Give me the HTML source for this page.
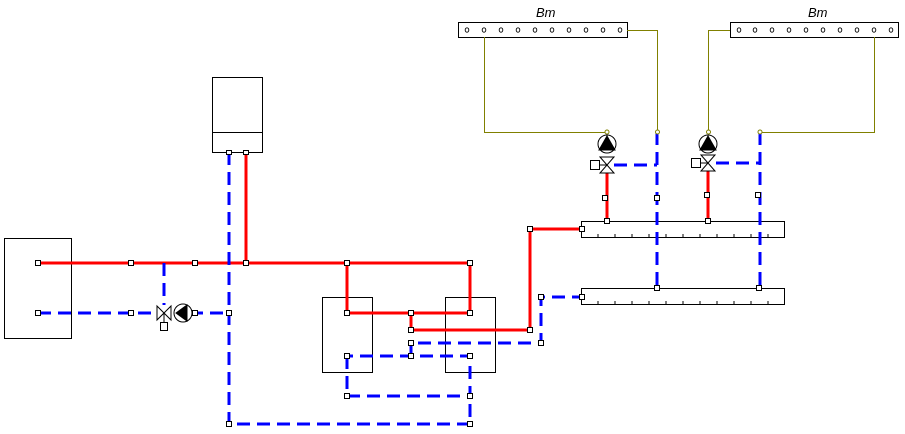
<!DOCTYPE html>
<html><head><meta charset="utf-8"><style>
html,body{margin:0;padding:0;background:#fff;width:905px;height:434px;overflow:hidden}
svg{display:block}
text{font-family:"Liberation Sans",sans-serif;font-style:italic;font-size:13px}
</style></head><body>
<svg width="905" height="434" viewBox="0 0 905 434" xmlns="http://www.w3.org/2000/svg">
<g fill="none" stroke="#000" stroke-width="1">
<rect x="4.5" y="238.5" width="67" height="100"/>
<rect x="212.5" y="77.5" width="50" height="75"/>
<line x1="212" y1="132.5" x2="262" y2="132.5"/>
<rect x="322.5" y="297.5" width="50" height="75"/>
<rect x="445.5" y="297.5" width="50" height="75"/>
<rect x="581.5" y="221.5" width="203" height="16"/>
<rect x="581.5" y="288.5" width="203" height="16"/>
<rect x="458.5" y="22.5" width="169" height="15"/>
<rect x="730.5" y="22.5" width="168" height="15"/>
</g>
<g stroke="#000" stroke-width="1" id="ticks">
<path d="M598 237v-3M615 237v-3M632 237v-3M649 237v-3M666 237v-3M683 237v-3M700 237v-3M717 237v-3M734 237v-3M751 237v-3M768 237v-3M598 304v-3M615 304v-3M632 304v-3M649 304v-3M666 304v-3M683 304v-3M700 304v-3M717 304v-3M734 304v-3M751 304v-3M768 304v-3"/>
</g>
<g fill="none" stroke="#000" stroke-width="1">
<g id="dots1"></g>
</g>
<g fill="none" stroke="#000" stroke-width="0.9">
<ellipse cx="467" cy="30" rx="1.8" ry="2.2"/><ellipse cx="484" cy="30" rx="1.8" ry="2.2"/><ellipse cx="501" cy="30" rx="1.8" ry="2.2"/><ellipse cx="518" cy="30" rx="1.8" ry="2.2"/><ellipse cx="535" cy="30" rx="1.8" ry="2.2"/><ellipse cx="552" cy="30" rx="1.8" ry="2.2"/><ellipse cx="569" cy="30" rx="1.8" ry="2.2"/><ellipse cx="586" cy="30" rx="1.8" ry="2.2"/><ellipse cx="603" cy="30" rx="1.8" ry="2.2"/><ellipse cx="620" cy="30" rx="1.8" ry="2.2"/>
<ellipse cx="739" cy="30" rx="1.8" ry="2.2"/><ellipse cx="755" cy="30" rx="1.8" ry="2.2"/><ellipse cx="772" cy="30" rx="1.8" ry="2.2"/><ellipse cx="789" cy="30" rx="1.8" ry="2.2"/><ellipse cx="806" cy="30" rx="1.8" ry="2.2"/><ellipse cx="823" cy="30" rx="1.8" ry="2.2"/><ellipse cx="840" cy="30" rx="1.8" ry="2.2"/><ellipse cx="857" cy="30" rx="1.8" ry="2.2"/><ellipse cx="874" cy="30" rx="1.8" ry="2.2"/><ellipse cx="891" cy="30" rx="1.8" ry="2.2"/>
</g>
<text x="536" y="17">Bm</text>
<text x="808" y="17">Bm</text>
<!-- olive wires -->
<g fill="none" stroke="#808000" stroke-width="1">
<path d="M484.5 37V132.5H607"/>
<path d="M627 30.5H657.5V132"/>
<path d="M730 30.5H708.5V132"/>
<path d="M874.5 37V132.5H760"/>
</g>
<!-- red lines -->
<g fill="none" stroke="#f00" stroke-width="3">
<path d="M38 263H470"/>
<path d="M246 152V263"/>
<path d="M347 263V313H470V263"/>
<path d="M411 313V330H530V229H582"/>
<path d="M607 172V221"/>
<path d="M708 170V221"/>
</g>
<!-- blue dashed -->
<g fill="none" stroke="#00f" stroke-width="3" stroke-dasharray="13,7">
<path d="M38 313H157"/>
<path d="M190 313H229"/>
<path d="M164 263V305"/>
<path d="M229 152V424H470V396"/>
<path d="M347 356V396H470V356H347"/>
<path d="M411 356V343H541V297H582"/>
<path d="M614 165H657"/>
<path d="M716 163H760"/>
<path d="M657 132V288"/>
<path d="M760 132V288"/>
</g>
<!-- left valve+pump -->
<g stroke="#000" stroke-width="1" fill="#fff">
<path d="M157 306L171 320V306L157 320Z"/>
<line x1="164" y1="313" x2="164" y2="322"/>
<rect x="160.5" y="322.5" width="7" height="8"/>
<circle cx="183" cy="313" r="9"/>
<path d="M176 313L187 305V321Z" fill="#000"/>
</g>
<!-- right pumps/valves -->
<g stroke="#000" stroke-width="1" fill="#fff">
<circle cx="607" cy="144" r="9"/>
<path d="M607 136L615 150H599Z" fill="#000"/>
<path d="M600 157L614 173H600L614 157Z"/>
<line x1="599" y1="165" x2="607" y2="165"/>
<rect x="590.5" y="160.5" width="9" height="9"/>
<circle cx="708" cy="144" r="9"/>
<path d="M708 136L716 150H700Z" fill="#000"/>
<path d="M701 155L715 171H701L715 155Z"/>
<line x1="700" y1="163" x2="708" y2="163"/>
<rect x="691.5" y="158.5" width="9" height="9"/>
</g>
<!-- nodes -->
<g fill="#fff" stroke="#000" stroke-width="1">
<rect x="35.5" y="260.5" width="5" height="5"/><rect x="35.5" y="310.5" width="5" height="5"/>
<rect x="128.5" y="260.5" width="5" height="5"/><rect x="192.5" y="260.5" width="5" height="5"/>
<rect x="243.5" y="260.5" width="5" height="5"/><rect x="344.5" y="260.5" width="5" height="5"/>
<rect x="467.5" y="260.5" width="5" height="5"/>
<rect x="128.5" y="310.5" width="5" height="5"/><rect x="192.5" y="310.5" width="5" height="5"/>
<rect x="226.5" y="310.5" width="5" height="5"/>
<rect x="226.5" y="150.5" width="5" height="4"/><rect x="243.5" y="150.5" width="5" height="4"/>
<rect x="344.5" y="310.5" width="5" height="5"/><rect x="408.5" y="310.5" width="5" height="5"/>
<rect x="467.5" y="310.5" width="5" height="5"/><rect x="408.5" y="327.5" width="5" height="5"/>
<rect x="527.5" y="327.5" width="5" height="5"/><rect x="527.5" y="226.5" width="5" height="5"/>
<rect x="579.5" y="226.5" width="5" height="5"/>
<rect x="408.5" y="340.5" width="5" height="5"/><rect x="538.5" y="340.5" width="5" height="5"/>
<rect x="538.5" y="294.5" width="5" height="5"/><rect x="579.5" y="294.5" width="5" height="5"/>
<rect x="344.5" y="353.5" width="5" height="5"/><rect x="408.5" y="353.5" width="5" height="5"/>
<rect x="467.5" y="353.5" width="5" height="5"/>
<rect x="344.5" y="393.5" width="5" height="5"/><rect x="467.5" y="393.5" width="5" height="5"/>
<rect x="226.5" y="421.5" width="5" height="5"/><rect x="467.5" y="421.5" width="5" height="5"/>
<rect x="602.5" y="195.5" width="5" height="5"/><rect x="654.5" y="195.5" width="5" height="5"/>
<rect x="604.5" y="218.5" width="5" height="5"/><rect x="705.5" y="218.5" width="5" height="5"/>
<rect x="704.5" y="192.5" width="5" height="5"/><rect x="755.5" y="192.5" width="5" height="5"/>
<rect x="654.5" y="285.5" width="5" height="5"/><rect x="756.5" y="285.5" width="5" height="5"/>
</g>
<g fill="#fff" stroke="#808000" stroke-width="1">
<circle cx="607" cy="132" r="2"/><circle cx="657.5" cy="132" r="2"/>
<circle cx="708.5" cy="132" r="2"/><circle cx="760" cy="132" r="2"/>
</g>
</svg>
</body></html>
